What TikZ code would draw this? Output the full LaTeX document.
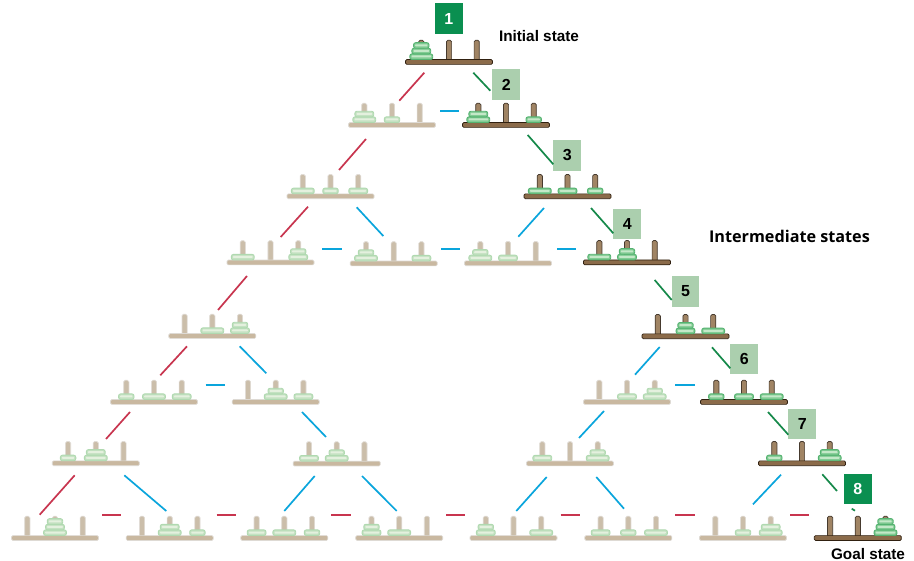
\documentclass[tikz,border=0pt]{standalone}
\usepackage{fontspec}
\setmainfont{Liberation Sans}
\newfontfamily\interfont{Open Sans}
\usetikzlibrary{calc}
\definecolor{redc}{HTML}{C8354F}
\definecolor{bluec}{HTML}{0AA5DC}
\definecolor{greenc}{HTML}{16894A}
\definecolor{badgedark}{HTML}{0A8F50}
\definecolor{badgelight}{HTML}{ABCFAE}
\tikzset{
  redline/.style={draw=redc,line width=1.7pt},
  blueline/.style={draw=bluec,line width=1.7pt},
  greenline/.style={draw=greenc,line width=1.7pt},
  darkboard/.style={draw=black!75!brown,fill={rgb,255:red,139;green,107;blue,74},line width=.7pt,rounded corners=1.2pt,minimum width=87pt,minimum height=4.8pt,inner sep=0pt},
  lightboard/.style={draw={rgb,255:red,222;green,218;blue,212},fill={rgb,255:red,201;green,184;blue,160},line width=.7pt,rounded corners=1.2pt,minimum width=87pt,minimum height=4.8pt,inner sep=0pt},
  darkpeg/.style={draw={rgb,255:red,70;green,58;blue,46},fill={rgb,255:red,160;green,132;blue,100},line width=.7pt,rounded corners=1.5pt},
  lightpeg/.style={draw={rgb,255:red,225;green,220;blue,214},fill={rgb,255:red,203;green,190;blue,170},line width=.7pt,rounded corners=1.5pt},
  darkdisk/.style={draw={rgb,255:red,84;green,178;blue,112},fill={rgb,255:red,130;green,204;blue,148},line width=.9pt,rounded corners=2pt},
  lightdisk/.style={draw={rgb,255:red,176;green,217;blue,176},fill={rgb,255:red,196;green,226;blue,194},line width=.9pt,rounded corners=2pt},
  darkshine/.style={fill={rgb,255:red,196;green,232;blue,200},rounded corners=.6pt},
  lightshine/.style={fill={rgb,255:red,228;green,240;blue,222},rounded corners=.6pt},
  darkbadge/.style={fill=badgedark,text=white,minimum width=27.7pt,minimum height=30.5pt,inner sep=0pt,font=\bfseries\fontsize{16}{16}\selectfont},
  lightbadge/.style={fill=badgelight,text=black,minimum width=27.7pt,minimum height=30.5pt,inner sep=0pt,font=\bfseries\fontsize{16}{16}\selectfont},
  caption/.style={inner sep=0pt,font=\bfseries\fontsize{15.3}{15.3}\selectfont},
}
\def\wL{22.8}\def\wM{18.8}\def\wS{15.4}
% \stackdisks{dx}{list}{kind}
\newcommand\stackdisks[3]{%
  \foreach \s [count=\n] in {#2}{%
    \if\s N\else
      \pgfmathsetmacro\hw{\csname w\s\endcsname/2}%
      \pgfmathsetmacro\yb{-2.5-(\n-1)*5.6}%
      \draw[#3disk] ({#1-\hw},\yb) rectangle ({#1+\hw},{\yb-5.6});
      \fill[#3shine] ({#1-\hw+1.6},{\yb-2}) rectangle ({#1+\hw-1.6},{\yb-4});
    \fi
  }%
}
% \tower{name}{cx}{cy}{dark|light}{peg1}{peg2}{peg3}
\newcommand\tower[7]{%
  \begin{scope}[shift={(#2,#3)}]
    \foreach \d in {-27.7,0,27.7}{\draw[#4peg] ({\d-2.6},-1) -- ({\d-2.6},-21.8) -- ({\d+2.6},-21.8) -- ({\d+2.6},-1) -- cycle;}
    \node[#4board] (#1) at (0,0) {};
    \stackdisks{-27.7}{#5}{#4}
    \stackdisks{0}{#6}{#4}
    \stackdisks{27.7}{#7}{#4}
  \end{scope}%
}
\begin{document}
\begin{tikzpicture}[x=1pt,y=-1pt]
\useasboundingbox[fill=white] (0,0) rectangle (914,561);
% towers
\tower{s1}{449}{62}{dark}{L,M,S}{N}{N}
\tower{a}{392}{125}{light}{L,M}{S}{N}
\tower{s2}{506}{125}{dark}{L,M}{N}{S}
\tower{b}{330.5}{196.3}{light}{L}{S}{M}
\tower{s3}{567.5}{196.3}{dark}{L}{M}{S}
\tower{c}{270.5}{262.5}{light}{L}{N}{M,S}
\tower{d}{393.7}{263.5}{light}{L,S}{N}{M}
\tower{e}{508}{263.3}{light}{L,S}{M}{N}
\tower{s4}{627}{262.4}{dark}{L}{M,S}{N}
\tower{f}{212.3}{336}{light}{N}{L}{M,S}
\tower{s5}{685.5}{336.3}{dark}{N}{M,S}{L}
\tower{g}{154}{402}{light}{S}{L}{M}
\tower{h}{275.7}{402}{light}{N}{L,S}{M}
\tower{i}{627}{402}{light}{N}{M}{L,S}
\tower{s6}{744}{402}{dark}{S}{M}{L}
\tower{j}{95.8}{463.3}{light}{S}{L,M}{N}
\tower{k}{336.7}{463.6}{light}{M}{L,S}{N}
\tower{l}{570}{463.5}{light}{M}{N}{L,S}
\tower{s7}{802}{463.3}{dark}{S}{N}{L,M}
\tower{b1}{55}{538}{light}{N}{L,M,S}{N}
\tower{b2}{169.7}{538}{light}{N}{L,M}{S}
\tower{b3}{284.3}{538}{light}{M}{L}{S}
\tower{b4}{399.2}{538}{light}{M,S}{L}{N}
\tower{b5}{513.5}{538}{light}{M,S}{N}{L}
\tower{b6}{628.3}{538}{light}{M}{S}{L}
\tower{b7}{743}{538}{light}{N}{S}{L,M}
\tower{b8}{857.8}{538}{dark}{N}{N}{L,M,S}
% badges
\node[darkbadge] (n1) at (448.7,18.5) {1};
\node[lightbadge] (n2) at (506.2,84.7) {2};
\node[lightbadge] (n3) at (567.3,155.3) {3};
\node[lightbadge] (n4) at (627.2,224) {4};
\node[lightbadge] (n5) at (685.5,291.5) {5};
\node[lightbadge] (n6) at (744.2,359.2) {6};
\node[lightbadge] (n7) at (802.2,424.2) {7};
\node[darkbadge] (n8) at (857.7,489.2) {8};
% captions
\node[caption] (t1) at (539,36) {Initial state};
\node[caption] (t2) at (868,554) {Goal state};
\node[inner sep=0pt,font=\interfont\bfseries\fontsize{16.2}{16.2}\selectfont] (t3) at (789.5,236) {Intermediate states};
% red connectors
\draw[redline] ($(s1)+(-24.7,10.7)$) -- ($(a)+(7.3,-24.3)$);
\draw[redline] ($(a)+(-26,14)$) -- ($(b)+(8.5,-26.3)$);
\draw[redline] ($(b)+(-22.5,10.4)$) -- ($(c)+(10.2,-25.5)$);
\draw[redline] ($(c)+(-23.5,13.5)$) -- ($(f)+(5.7,-26)$);
\draw[redline] ($(f)+(-25.3,10.3)$) -- ($(g)+(6.3,-26.7)$);
\draw[redline] ($(g)+(-24,10)$) -- ($(j)+(10.2,-24.3)$);
\draw[redline] ($(j)+(-21.1,12)$) -- ($(b1)+(-15.3,-23.3)$);
\draw[redline] ($(b1)+(47,-23.3)$) -- ($(b2)+(-48.4,-23.3)$);
\draw[redline] ($(b2)+(47,-23.3)$) -- ($(b3)+(-48.3,-23.3)$);
\draw[redline] ($(b3)+(47,-23.3)$) -- ($(b4)+(-48.6,-23.3)$);
\draw[redline] ($(b4)+(46.8,-23.3)$) -- ($(b5)+(-48.2,-23.3)$);
\draw[redline] ($(b5)+(47.2,-23.3)$) -- ($(b6)+(-48.3,-23.3)$);
\draw[redline] ($(b6)+(47,-23.3)$) -- ($(b7)+(-48.3,-23.3)$);
\draw[redline] ($(b7)+(47.3,-23.3)$) -- ($(b8)+(-48.5,-23.3)$);
% blue connectors
\draw[blueline] ($(a)+(48.3,-14)$) -- ($(s2)+(-46.7,-14)$);
\draw[blueline] ($(b)+(26.2,11)$) -- ($(d)+(-10.4,-27.5)$);
\draw[blueline] ($(c)+(51.8,-13.8)$) -- ($(d)+(-52,-14.8)$);
\draw[blueline] ($(d)+(47.3,-14.8)$) -- ($(e)+(-48,-14.6)$);
\draw[blueline] ($(e)+(49,-14.6)$) -- ($(s4)+(-50.7,-13.7)$);
\draw[blueline] ($(s3)+(-23.5,11.7)$) -- ($(e)+(10.3,-26.6)$);
\draw[blueline] ($(f)+(27.4,10.3)$) -- ($(h)+(-9.4,-28.7)$);
\draw[blueline] ($(g)+(51.7,-16.7)$) -- ($(h)+(-50.7,-16.7)$);
\draw[blueline] ($(h)+(26.3,10)$) -- ($(k)+(-10.7,-26.6)$);
\draw[blueline] ($(s5)+(-25.8,10.7)$) -- ($(i)+(8,-27.3)$);
\draw[blueline] ($(i)+(48.3,-16.7)$) -- ($(s6)+(-49.3,-16.7)$);
\draw[blueline] ($(i)+(-23,9)$) -- ($(l)+(9,-25.5)$);
\draw[blueline] ($(s7)+(-21,11.4)$) -- ($(b7)+(10,-33.7)$);
\draw[blueline] ($(j)+(28.5,12)$) -- ($(b2)+(-3.4,-27)$);
\draw[blueline] ($(k)+(-22,12.4)$) -- ($(b3)+(0,-27)$);
\draw[blueline] ($(k)+(25.3,12.4)$) -- ($(b4)+(-2.5,-27)$);
\draw[blueline] ($(l)+(-23.3,13.5)$) -- ($(b5)+(2.8,-27)$);
\draw[blueline] ($(l)+(26.3,13.5)$) -- ($(b6)+(-4.3,-29.3)$);
% green connectors
\draw[greenline] ($(s1)+(24.3,10.7)$) -- ($(n2)+(-15.9,6)$);
\draw[greenline] ($(s2)+(21.7,10)$) -- ($(n3)+(-14,9)$);
\draw[greenline] ($(s3)+(23.5,11.7)$) -- ($(n4)+(-13.9,9.3)$);
\draw[greenline] ($(s4)+(27.7,17.6)$) -- ($(n5)+(-13.8,8.5)$);
\draw[greenline] ($(s5)+(26.5,11)$) -- ($(n6)+(-13.9,9.1)$);
\draw[greenline] ($(s6)+(24,10)$) -- ($(n7)+(-13.9,10.5)$);
\draw[greenline] ($(s7)+(20.3,11)$) -- ($(n8)+(-20.7,1.8)$);
\draw[greenline] ($(n8)+(-6,19.5)$) -- ($(b8)+(-2.8,-27.3)$);
\end{tikzpicture}
\end{document}
